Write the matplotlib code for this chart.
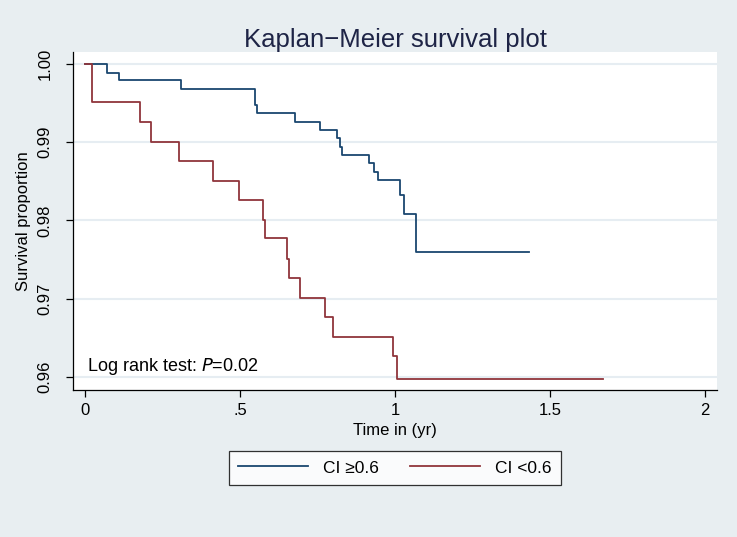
import matplotlib
matplotlib.use('Agg')
import matplotlib.pyplot as plt

plt.rcParams['font.family'] = ['Liberation Sans', 'DejaVu Sans']

# 生存曲线数据
hi_time = [0, 0.07, 0.109, 0.309, 0.548, 0.554, 0.677, 0.758, 0.812, 0.821, 0.829,
           0.917, 0.932, 0.945, 1.016, 1.029, 1.068, 1.433]
hi_surv = [1.0, 0.9989, 0.9979, 0.9968, 0.9947, 0.9937, 0.9926, 0.9915, 0.9905, 0.9894, 0.9883,
           0.9873, 0.9862, 0.9851, 0.9832, 0.9808, 0.9759, 0.9759]

lo_time = [0, 0.024, 0.177, 0.214, 0.304, 0.412, 0.497, 0.573, 0.581, 0.651, 0.658,
           0.694, 0.774, 0.799, 0.993, 1.005, 1.67]
lo_surv = [1.0, 0.9951, 0.9926, 0.9900, 0.9876, 0.9850, 0.9826, 0.9801, 0.9777, 0.9751, 0.9726,
           0.9701, 0.9676, 0.9651, 0.9627, 0.9597, 0.9597]

labels = ['CI \u22650.6', 'CI <0.6']
x_ticks = [0, 0.5, 1, 1.5, 2]
x_tick_labels = ['0', '.5', '1', '1.5', '2']
y_ticks = [0.96, 0.97, 0.98, 0.99, 1.00]
y_tick_labels = ['0.96', '0.97', '0.98', '0.99', '1.00']

BG = '#e8eef1'
NAVY = '#1a476f'
MAROON = '#90353b'

fig = plt.figure(figsize=(7.37, 5.37), dpi=100, facecolor=BG)
ax = fig.add_axes([0.0995, 0.2737, 0.873, 0.63])
ax.set_facecolor('white')

ax.plot(hi_time, hi_surv, drawstyle='steps-post', color=NAVY, lw=1.3, label=labels[0])
ax.plot(lo_time, lo_surv, drawstyle='steps-post', color=MAROON, lw=1.3, label=labels[1])

ax.set_xlim(-0.0377, 2.038)
ax.set_ylim(0.9583, 1.00157)
ax.set_xticks(x_ticks)
ax.set_xticklabels(x_tick_labels, fontsize=12)
ax.set_yticks(y_ticks)
ax.set_yticklabels(y_tick_labels, fontsize=12, rotation=90, va='center')
ax.yaxis.grid(True, color='#e6edf2', lw=1.5)
ax.set_axisbelow(True)
ax.tick_params(direction='out', length=5, width=0.9, color='black')
ax.tick_params(axis='y', pad=10)
ax.tick_params(axis='x', pad=4)

for s in ['top', 'right']:
    ax.spines[s].set_visible(False)
for s in ['left', 'bottom']:
    ax.spines[s].set_color('black')
    ax.spines[s].set_linewidth(0.9)

ax.set_xlabel('Time in (yr)', fontsize=12, labelpad=4)
ax.set_ylabel('Survival proportion', fontsize=12, labelpad=5)
ax.set_title('Kaplan\u2212Meier survival plot', fontsize=18.5, color='#1e2446', pad=3)

ax.text(0.0075, 0.9613, 'Log rank test: $\\it{P}$=0.02', fontsize=13, va='center', ha='left')

leg = fig.legend(loc='center', bbox_to_anchor=(395 / 737, 1 - 468 / 537), ncol=2,
                 fontsize=12.5, frameon=True, fancybox=False, edgecolor='black',
                 handlelength=4.0, columnspacing=1.8, handletextpad=0.9, borderpad=0.55)
leg.get_frame().set_linewidth(0.9)

fig.savefig('out.png', dpi=100, facecolor=BG)
